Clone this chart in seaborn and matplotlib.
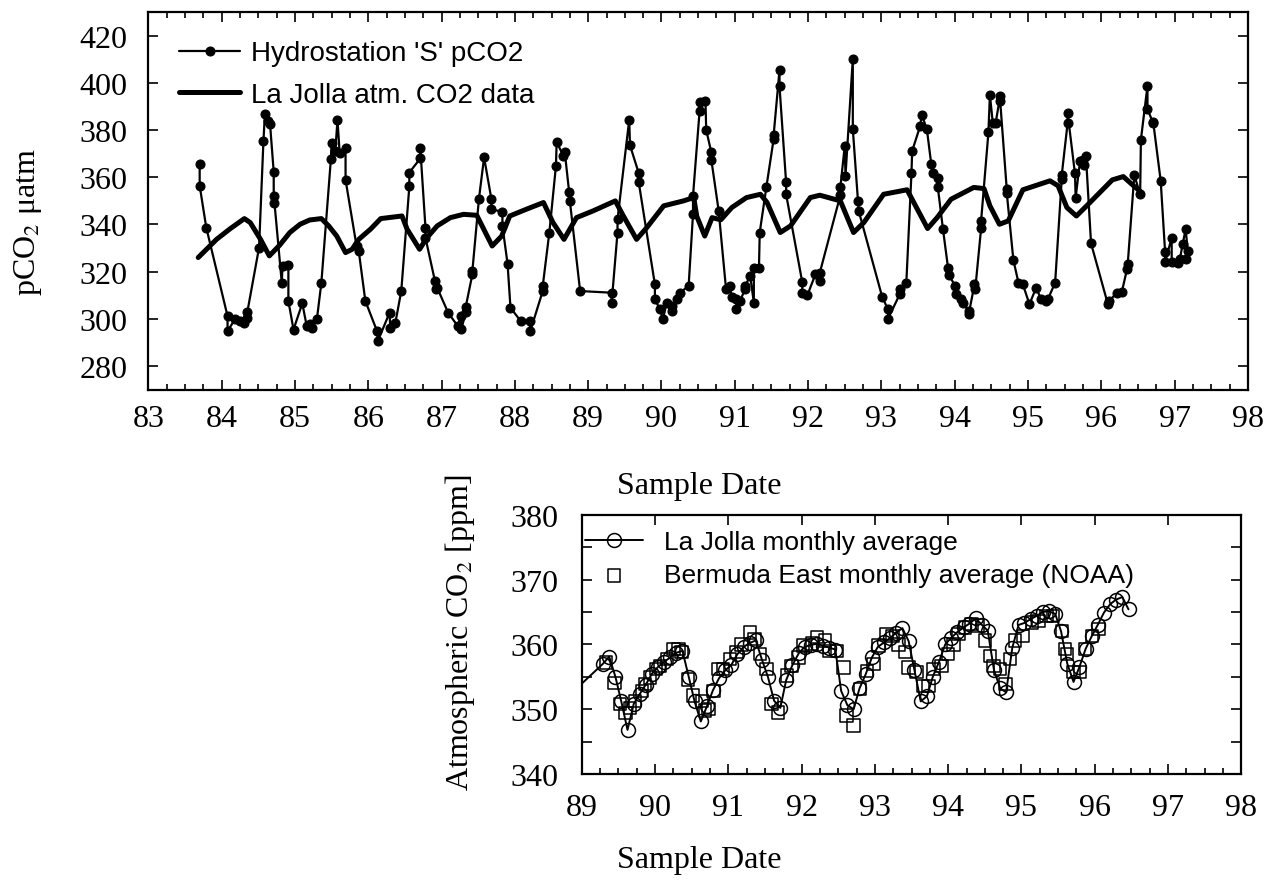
import matplotlib
matplotlib.use('Agg')
import matplotlib.pyplot as plt
from matplotlib.ticker import MultipleLocator
import seaborn as sns

sns.set_style('ticks')
plt.rcParams['font.family'] = ['Liberation Serif', 'DejaVu Serif']
plt.rcParams['mathtext.fontset'] = 'stix'
plt.rcParams['text.color'] = 'black'
plt.rcParams['xtick.color'] = 'black'
plt.rcParams['ytick.color'] = 'black'
plt.rcParams['xtick.labelcolor'] = 'black'
plt.rcParams['ytick.labelcolor'] = 'black'

# Hydrostation 'S' pCO2 (top panel)
hs_year = [83.70, 83.70, 83.79, 84.08, 84.08, 84.18, 84.25, 84.30, 84.35, 84.35,
           84.51, 84.57, 84.59, 84.63, 84.66, 84.71, 84.71, 84.72, 84.82, 84.83,
           84.91, 84.91, 84.98, 85.10, 85.16, 85.20, 85.23, 85.30, 85.36, 85.49,
           85.50, 85.55, 85.58, 85.61, 85.69, 85.69, 85.84, 85.87, 85.96, 86.12,
           86.13, 86.29, 86.30, 86.37, 86.45, 86.56, 86.56, 86.71, 86.71, 86.78,
           86.78, 86.91, 86.92, 86.94, 87.09, 87.22, 87.26, 87.27, 87.33, 87.33,
           87.42, 87.42, 87.51, 87.58, 87.68, 87.68, 87.83, 87.83, 87.90, 87.94,
           88.08, 88.20, 88.21, 88.38, 88.38, 88.47, 88.56, 88.57, 88.66, 88.68,
           88.74, 88.75, 88.89, 89.32, 89.32, 89.40, 89.40, 89.56, 89.57, 89.69,
           89.69, 89.91, 89.91, 89.98, 90.02, 90.07, 90.14, 90.14, 90.21, 90.25,
           90.37, 90.43, 90.43, 90.52, 90.52, 90.60, 90.61, 90.68, 90.68, 90.78,
           90.88, 90.93, 90.96, 91.02, 91.02, 91.07, 91.14, 91.14, 91.21, 91.26,
           91.26, 91.33, 91.34, 91.43, 91.53, 91.53, 91.61, 91.61, 91.70, 91.70,
           91.92, 91.92, 91.99, 92.10, 92.16, 92.16, 92.44, 92.44, 92.50, 92.51,
           92.61, 92.61, 92.68, 92.69, 93.01, 93.09, 93.09, 93.25, 93.26, 93.34,
           93.41, 93.42, 93.53, 93.55, 93.62, 93.68, 93.70, 93.77, 93.77, 93.84,
           93.91, 93.92, 94.01, 94.02, 94.09, 94.11, 94.19, 94.19, 94.27, 94.28,
           94.36, 94.36, 94.46, 94.48, 94.52, 94.56, 94.62, 94.62, 94.71, 94.71,
           94.80, 94.87, 94.93, 95.02, 95.11, 95.18, 95.25, 95.27, 95.37, 95.46,
           95.46, 95.54, 95.54, 95.64, 95.65, 95.71, 95.75, 95.76, 95.79, 95.86,
           96.09, 96.11, 96.21, 96.28, 96.35, 96.36, 96.45, 96.53, 96.54, 96.63,
           96.63, 96.70, 96.71, 96.81, 96.87, 96.87, 96.96, 96.96, 97.05, 97.07,
           97.11, 97.15, 97.18, 97.16]
hs_pco2 = [365.6, 356.4, 338.7, 301.2, 294.8, 299.8, 299.1, 298.4, 300.5, 302.9,
           330.2, 375.5, 387.0, 383.9, 382.5, 362.3, 352.1, 349.3, 315.3, 322.4,
           322.7, 307.6, 295.5, 306.6, 297.0, 298.0, 296.3, 300.1, 315.3, 367.7,
           374.7, 371.2, 384.2, 370.2, 372.6, 358.9, 330.9, 328.8, 307.6, 294.8,
           290.6, 302.6, 296.3, 298.4, 311.8, 356.1, 362.0, 368.0, 372.2, 338.7,
           334.4, 316.0, 312.5, 313.2, 302.6, 297.0, 301.2, 295.6, 302.9, 305.2,
           318.9, 320.3, 351.0, 368.4, 350.7, 346.5, 345.3, 339.4, 323.4, 304.7,
           299.1, 299.1, 294.8, 311.8, 313.9, 336.6, 364.8, 375.0, 369.1, 370.8,
           353.8, 350.0, 311.8, 311.1, 306.9, 336.6, 342.2, 384.4, 373.6, 361.7,
           357.8, 314.6, 308.3, 304.0, 299.8, 306.9, 303.3, 305.4, 308.3, 311.1,
           313.9, 344.3, 352.1, 388.2, 391.7, 392.4, 380.1, 370.5, 367.4, 345.8,
           312.8, 313.9, 309.4, 308.3, 304.0, 307.6, 312.5, 313.9, 318.2, 306.9,
           321.7, 321.7, 336.6, 355.7, 376.2, 377.9, 405.4, 398.5, 357.8, 352.8,
           315.6, 310.8, 310.0, 318.9, 316.0, 319.6, 352.4, 355.7, 373.3, 360.6,
           410.1, 380.4, 350.0, 345.8, 309.4, 304.0, 300.1, 310.4, 312.5, 315.3,
           361.7, 371.2, 381.8, 386.5, 380.4, 365.6, 362.0, 359.9, 355.7, 338.0,
           321.4, 318.5, 313.9, 310.4, 308.3, 306.9, 303.3, 301.9, 314.6, 312.5,
           338.3, 341.5, 379.0, 395.0, 382.9, 383.2, 394.5, 392.4, 354.9, 353.5,
           325.0, 315.3, 314.6, 306.2, 313.2, 308.3, 307.6, 308.3, 315.3, 359.2,
           360.9, 382.9, 387.2, 361.7, 351.4, 367.0, 367.4, 365.1, 369.1, 332.0,
           306.2, 307.6, 311.1, 311.4, 321.0, 323.1, 360.9, 352.8, 375.9, 398.8,
           388.9, 383.5, 382.9, 358.5, 328.4, 324.1, 334.4, 324.1, 323.8, 325.2,
           331.6, 338.0, 328.8, 325.5]

# La Jolla atmospheric CO2 (top panel)
lj_year = [83.68, 83.93, 84.12, 84.31, 84.39, 84.53, 84.65, 84.79, 84.93, 85.07,
           85.20, 85.36, 85.46, 85.57, 85.69, 85.78, 85.87, 86.03, 86.17, 86.46,
           86.53, 86.70, 86.80, 86.94, 87.12, 87.30, 87.48, 87.69, 87.82, 87.93,
           88.16, 88.39, 88.52, 88.67, 88.84, 89.07, 89.37, 89.48, 89.66, 89.80,
           90.03, 90.30, 90.44, 90.48, 90.59, 90.69, 90.81, 90.96, 91.16, 91.35,
           91.44, 91.62, 91.76, 92.03, 92.16, 92.44, 92.62, 92.76, 93.03, 93.35,
           93.63, 93.76, 93.95, 94.26, 94.40, 94.48, 94.61, 94.73, 94.93, 95.30,
           95.41, 95.53, 95.66, 95.80, 96.15, 96.30, 96.44, 96.54]
lj_co2 = [326.0, 333.7, 338.3, 342.5, 340.8, 333.7, 326.7, 331.2, 336.6, 340.1,
          341.9, 342.5, 339.4, 335.1, 328.1, 329.5, 333.7, 338.0, 342.5, 343.6,
          338.0, 329.5, 334.4, 339.4, 342.9, 344.3, 343.9, 330.9, 335.1, 343.6,
          346.5, 349.3, 340.8, 333.7, 342.9, 345.8, 350.0, 343.6, 333.7, 338.7,
          347.9, 350.0, 351.4, 343.6, 335.1, 342.9, 342.0, 347.2, 351.4, 352.8,
          349.3, 336.6, 339.4, 351.4, 352.4, 350.0, 336.6, 340.8, 352.8, 354.7,
          338.3, 342.9, 350.7, 355.7, 355.2, 347.9, 340.1, 341.5, 354.7, 358.5,
          356.4, 347.2, 343.6, 347.9, 358.9, 360.3, 356.4, 353.8]

# La Jolla monthly average (bottom panel)
ljm_year = [88.875, 89.29, 89.375, 89.46, 89.54, 89.625, 89.71, 89.79, 89.875, 89.96,
            90.04, 90.125, 90.21, 90.29, 90.375, 90.46, 90.54, 90.625, 90.71, 90.79,
            90.875, 90.96, 91.04, 91.125, 91.21, 91.29, 91.375, 91.46, 91.54, 91.625,
            91.71, 91.79, 91.875, 91.96, 92.04, 92.125, 92.21, 92.29, 92.375, 92.46,
            92.54, 92.625, 92.71, 92.79, 92.875, 92.96, 93.04, 93.125, 93.21, 93.29,
            93.375, 93.46, 93.54, 93.625, 93.71, 93.79, 93.875, 93.96, 94.04, 94.125,
            94.21, 94.29, 94.375, 94.46, 94.54, 94.625, 94.71, 94.79, 94.875, 94.96,
            95.04, 95.125, 95.21, 95.29, 95.375, 95.46, 95.54, 95.625, 95.71, 95.79,
            95.875, 95.96, 96.04, 96.125, 96.21, 96.29, 96.375, 96.46]
ljm_co2 = [352.6, 357.0, 358.1, 355.0, 351.2, 346.8, 350.8, 352.3, 353.8, 355.5,
           356.5, 357.3, 358.0, 358.7, 359.0, 355.0, 351.2, 348.1, 350.5, 352.9,
           354.8, 356.0, 356.8, 358.5, 359.6, 360.2, 360.6, 357.6, 355.0, 351.3,
           350.2, 354.5, 356.8, 358.6, 359.6, 359.9, 360.1, 359.8, 359.5, 359.2,
           352.8, 350.6, 350.0, 353.2, 355.4, 358.0, 359.6, 360.3, 361.0, 361.8,
           362.5, 360.5, 356.0, 351.2, 352.0, 355.0, 357.3, 360.0, 361.0, 361.9,
           362.6, 363.2, 364.0, 363.0, 362.1, 356.0, 353.2, 352.6, 359.5, 363.0,
           363.3, 363.9, 364.4, 365.0, 365.1, 364.7, 362.0, 357.0, 354.2, 356.5,
           359.3, 361.3, 363.0, 364.9, 366.2, 366.9, 367.3, 365.4]

# Bermuda East monthly average, NOAA (bottom panel)
ber_year = [89.33, 89.45, 89.52, 89.60, 89.66, 89.73, 89.82, 89.86, 89.93, 90.01,
            90.07, 90.16, 90.25, 90.32, 90.36, 90.45, 90.52, 90.64, 90.68, 90.73,
            90.80, 90.86, 90.93, 91.02, 91.11, 91.18, 91.30, 91.36, 91.43, 91.52,
            91.59, 91.68, 91.80, 91.86, 91.96, 92.02, 92.14, 92.21, 92.32, 92.37,
            92.48, 92.57, 92.61, 92.71, 92.80, 92.89, 92.98, 93.05, 93.16, 93.24,
            93.32, 93.41, 93.46, 93.57, 93.66, 93.73, 93.80, 93.91, 94.00, 94.07,
            94.14, 94.23, 94.32, 94.40, 94.50, 94.57, 94.62, 94.71, 94.78, 94.84,
            94.91, 95.02, 95.14, 95.23, 95.34, 95.43, 95.55, 95.59, 95.62, 95.71,
            95.80, 95.87, 95.96, 96.05]
ber_co2 = [357.2, 354.0, 350.8, 349.4, 350.2, 351.3, 352.8, 353.9, 354.9, 356.2,
           356.7, 357.7, 359.3, 359.3, 358.8, 354.6, 352.1, 351.3, 349.8, 350.0,
           352.8, 356.2, 356.2, 357.7, 358.8, 360.0, 361.8, 360.8, 358.5, 356.2,
           350.8, 349.5, 355.2, 356.7, 358.0, 359.8, 360.1, 361.1, 360.6, 359.0,
           359.0, 356.4, 349.0, 347.5, 353.1, 355.9, 357.0, 359.8, 361.6, 361.3,
           360.0, 358.8, 356.4, 355.7, 353.6, 353.6, 356.2, 356.7, 358.5, 360.0,
           361.6, 362.6, 363.1, 362.9, 360.6, 358.2, 356.7, 356.2, 353.9, 357.7,
           360.6, 361.3, 363.4, 363.6, 364.4, 364.4, 362.1, 359.3, 358.5, 355.7,
           355.7, 359.3, 361.3, 362.4]

fig = plt.figure(figsize=(12.79, 8.87), dpi=100)
ax1 = fig.add_axes([0.116, 0.5595, 0.8597, 0.4258])
ax2 = fig.add_axes([0.4548, 0.1263, 0.5158, 0.2923])

# top panel
sns.lineplot(x=hs_year, y=hs_pco2, sort=False, estimator=None, color='black',
             linewidth=1.6, marker='o', markersize=6.5, markeredgecolor='black',
             label="Hydrostation 'S' pCO2", ax=ax1)
sns.lineplot(x=lj_year, y=lj_co2, sort=False, estimator=None, color='black',
             linewidth=3.6, label='La Jolla atm. CO2 data', ax=ax1)

ax1.set_xlim(83, 98)
ax1.set_ylim(270, 430)
ax1.xaxis.set_major_locator(MultipleLocator(1))
ax1.xaxis.set_minor_locator(MultipleLocator(0.25))
ax1.yaxis.set_major_locator(MultipleLocator(20))
ax1.tick_params(which='both', direction='in', top=True, right=True, width=1.2,
                colors='black')
ax1.tick_params(which='major', length=7.5, labelsize=23)
ax1.tick_params(which='minor', length=4)
ax1.tick_params(axis='x', pad=10)
ax1.tick_params(axis='y', pad=15)
ax1.set_xlabel('')
ax1.set_ylabel('')
ax1.legend(loc='upper left', bbox_to_anchor=(0.028, 0.925), frameon=False,
           prop={'family': 'Liberation Sans', 'size': 20}, handlelength=2.2,
           handletextpad=0.4, labelspacing=0.55, borderpad=0, borderaxespad=0)

# bottom panel
sns.lineplot(x=ljm_year, y=ljm_co2, sort=False, estimator=None, color='black',
             linewidth=1.4, marker='o', markersize=10, markerfacecolor='none',
             markeredgecolor='black', markeredgewidth=1.1,
             label='La Jolla monthly average', ax=ax2)
sns.scatterplot(x=ber_year, y=ber_co2, marker='s', s=80, facecolor='none',
                edgecolor='black', linewidth=1.1,
                label='Bermuda East monthly average (NOAA)', ax=ax2)

ax2.set_xlim(89, 98)
ax2.set_ylim(340, 380)
ax2.xaxis.set_major_locator(MultipleLocator(1))
ax2.xaxis.set_minor_locator(MultipleLocator(0.25))
ax2.yaxis.set_major_locator(MultipleLocator(10))
ax2.yaxis.set_minor_locator(MultipleLocator(5))
ax2.tick_params(which='both', direction='in', top=True, right=True, width=1.2,
                colors='black')
ax2.tick_params(which='major', length=7.5, labelsize=23)
ax2.tick_params(which='minor', length=4)
ax2.tick_params(axis='y', which='minor', length=7.5)
ax2.tick_params(axis='x', which='minor', top=False)
ax2.tick_params(axis='x', pad=14)
ax2.tick_params(axis='y', pad=17)
ax2.set_xlabel('')
ax2.set_ylabel('')
ax2.legend(loc='upper left', bbox_to_anchor=(0.005, 0.94), frameon=False,
           prop={'family': 'Liberation Sans', 'size': 19}, handlelength=2.2,
           handletextpad=0.8, labelspacing=0.35, borderpad=0, borderaxespad=0)

for ax in (ax1, ax2):
    for sp in ax.spines.values():
        sp.set_linewidth(1.6)
        sp.set_color('black')

fig.text(0.022, 0.75, 'pCO$_2$ \u03bcatm', rotation=90, ha='center', va='center',
         fontsize=23)
fig.text(0.547, 0.451, 'Sample Date', ha='center', va='center', fontsize=23)
fig.text(0.3597, 0.2864, 'Atmospheric CO$_2$ [ppm]', rotation=90, ha='center',
         va='center', fontsize=23)
fig.text(0.547, 0.0304, 'Sample Date', ha='center', va='center', fontsize=23)

fig.savefig('out.png', dpi=100, facecolor='white')
